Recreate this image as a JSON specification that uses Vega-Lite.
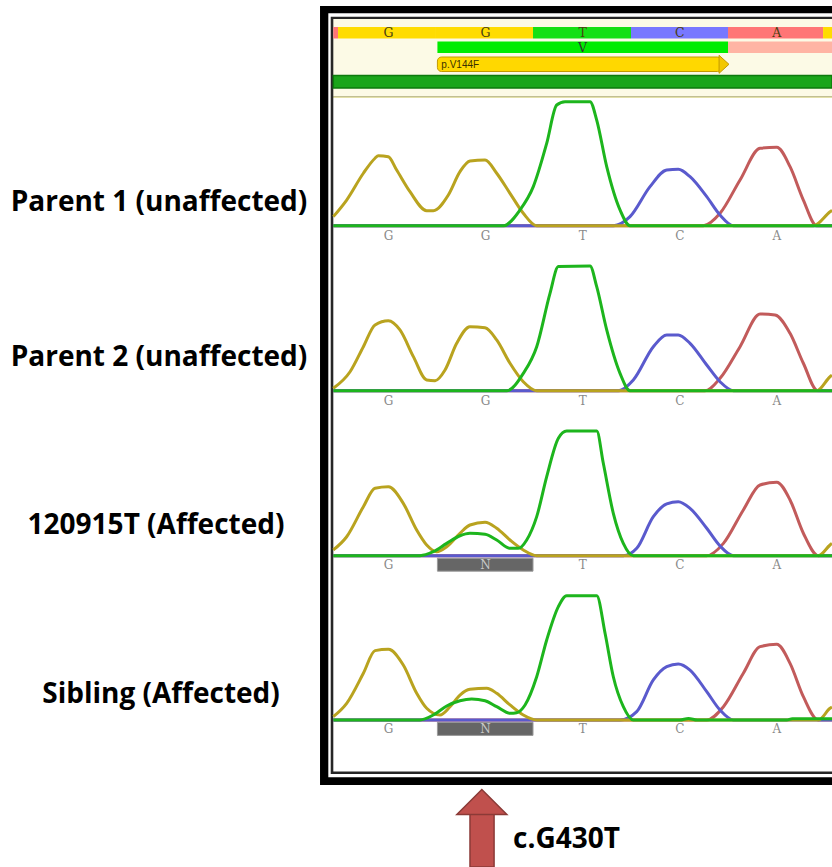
{
"$schema":"https://vega.github.io/schema/vega-lite/v6.json",
"padding":0,"autosize":{"type":"pad"},"spacing":0,"bounds":"flush",
"background":"#ffffff",
"config":{"view":{"stroke":null}},
"data":{"values":[{}]},
"datasets":{
"refseq":[
{"base":"A","start":0.4325,"end":0.481},
{"base":"G","start":0.481,"end":1.48,"pos":1},
{"base":"G","start":1.48,"end":2.489,"pos":2},
{"base":"T","start":2.489,"end":3.498,"pos":3},
{"base":"C","start":3.498,"end":4.497,"pos":4},
{"base":"A","start":4.497,"end":5.476,"pos":5},
{"base":"G","start":5.476,"end":5.568}
],
"labels":[
{"sample":"Parent 1","label":"Parent 1 (unaffected)"},
{"sample":"Parent 2","label":"Parent 2 (unaffected)"},
{"sample":"120915T","label":"120915T (Affected)"},
{"sample":"Sibling","label":"Sibling (Affected)"}
],
"calls":[
{"sample":"Parent 1","pos":1,"call":"G"},{"sample":"Parent 1","pos":2,"call":"G"},{"sample":"Parent 1","pos":3,"call":"T"},{"sample":"Parent 1","pos":4,"call":"C"},{"sample":"Parent 1","pos":5,"call":"A"},
{"sample":"Parent 2","pos":1,"call":"G"},{"sample":"Parent 2","pos":2,"call":"G"},{"sample":"Parent 2","pos":3,"call":"T"},{"sample":"Parent 2","pos":4,"call":"C"},{"sample":"Parent 2","pos":5,"call":"A"},
{"sample":"120915T","pos":1,"call":"G"},{"sample":"120915T","pos":2,"call":"N"},{"sample":"120915T","pos":3,"call":"T"},{"sample":"120915T","pos":4,"call":"C"},{"sample":"120915T","pos":5,"call":"A"},
{"sample":"Sibling","pos":1,"call":"G"},{"sample":"Sibling","pos":2,"call":"N"},{"sample":"Sibling","pos":3,"call":"T"},{"sample":"Sibling","pos":4,"call":"C"},{"sample":"Sibling","pos":5,"call":"A"}
],
"ambig":[
{"sample":"120915T","start":1.5046,"end":2.489},
{"sample":"Sibling","start":1.5046,"end":2.489}
],
"traces":[
{"sample":"Parent 1","base":"A","pos":0.4325,"signal":0},{"sample":"Parent 1","base":"A","pos":4.243,"signal":0},{"sample":"Parent 1","base":"A","pos":4.415,"signal":100},{"sample":"Parent 1","base":"A","pos":4.621,"signal":369},{"sample":"Parent 1","base":"A","pos":4.827,"signal":624},{"sample":"Parent 1","base":"A","pos":4.999,"signal":632},{"sample":"Parent 1","base":"A","pos":5.136,"signal":476},{"sample":"Parent 1","base":"A","pos":5.273,"signal":207},{"sample":"Parent 1","base":"A","pos":5.411,"signal":0},{"sample":"Parent 1","base":"A","pos":5.568,"signal":0},
{"sample":"Parent 1","base":"C","pos":0.4325,"signal":0},{"sample":"Parent 1","base":"C","pos":3.316,"signal":0},{"sample":"Parent 1","base":"C","pos":3.488,"signal":73},{"sample":"Parent 1","base":"C","pos":3.694,"signal":315},{"sample":"Parent 1","base":"C","pos":3.866,"signal":449},{"sample":"Parent 1","base":"C","pos":3.985,"signal":455},{"sample":"Parent 1","base":"C","pos":4.106,"signal":395},{"sample":"Parent 1","base":"C","pos":4.278,"signal":234},{"sample":"Parent 1","base":"C","pos":4.415,"signal":86},{"sample":"Parent 1","base":"C","pos":4.552,"signal":0},{"sample":"Parent 1","base":"C","pos":5.568,"signal":0},
{"sample":"Parent 1","base":"G","pos":0.4325,"signal":73},{"sample":"Parent 1","base":"G","pos":0.57,"signal":207},{"sample":"Parent 1","base":"G","pos":0.742,"signal":423},{"sample":"Parent 1","base":"G","pos":0.862,"signal":544},{"sample":"Parent 1","base":"G","pos":0.896,"signal":565},{"sample":"Parent 1","base":"G","pos":0.999,"signal":556},{"sample":"Parent 1","base":"G","pos":1.085,"signal":449},{"sample":"Parent 1","base":"G","pos":1.222,"signal":274},{"sample":"Parent 1","base":"G","pos":1.394,"signal":121},{"sample":"Parent 1","base":"G","pos":1.462,"signal":121},{"sample":"Parent 1","base":"G","pos":1.617,"signal":248},{"sample":"Parent 1","base":"G","pos":1.737,"signal":436},{"sample":"Parent 1","base":"G","pos":1.84,"signal":522},{"sample":"Parent 1","base":"G","pos":1.995,"signal":530},{"sample":"Parent 1","base":"G","pos":2.115,"signal":423},{"sample":"Parent 1","base":"G","pos":2.252,"signal":261},{"sample":"Parent 1","base":"G","pos":2.389,"signal":100},{"sample":"Parent 1","base":"G","pos":2.527,"signal":0},{"sample":"Parent 1","base":"G","pos":5.376,"signal":0},{"sample":"Parent 1","base":"G","pos":5.548,"signal":113},{"sample":"Parent 1","base":"G","pos":5.568,"signal":124},
{"sample":"Parent 1","base":"T","pos":0.4325,"signal":0},{"sample":"Parent 1","base":"T","pos":2.184,"signal":0},{"sample":"Parent 1","base":"T","pos":2.355,"signal":127},{"sample":"Parent 1","base":"T","pos":2.492,"signal":315},{"sample":"Parent 1","base":"T","pos":2.63,"signal":664},{"sample":"Parent 1","base":"T","pos":2.733,"signal":973},{"sample":"Parent 1","base":"T","pos":2.819,"signal":1000},{"sample":"Parent 1","base":"T","pos":3.076,"signal":1000},{"sample":"Parent 1","base":"T","pos":3.145,"signal":852},{"sample":"Parent 1","base":"T","pos":3.248,"signal":476},{"sample":"Parent 1","base":"T","pos":3.385,"signal":127},{"sample":"Parent 1","base":"T","pos":3.488,"signal":0},{"sample":"Parent 1","base":"T","pos":5.568,"signal":0},

{"sample":"Parent 2","base":"A","pos":0.4325,"signal":0},{"sample":"Parent 2","base":"A","pos":4.261,"signal":0},{"sample":"Parent 2","base":"A","pos":4.415,"signal":99},{"sample":"Parent 2","base":"A","pos":4.621,"signal":353},{"sample":"Parent 2","base":"A","pos":4.827,"signal":615},{"sample":"Parent 2","base":"A","pos":4.982,"signal":607},{"sample":"Parent 2","base":"A","pos":5.136,"signal":460},{"sample":"Parent 2","base":"A","pos":5.273,"signal":220},{"sample":"Parent 2","base":"A","pos":5.42,"signal":0},{"sample":"Parent 2","base":"A","pos":5.568,"signal":0},
{"sample":"Parent 2","base":"C","pos":0.4325,"signal":0},{"sample":"Parent 2","base":"C","pos":3.368,"signal":0},{"sample":"Parent 2","base":"C","pos":3.522,"signal":86},{"sample":"Parent 2","base":"C","pos":3.728,"signal":353},{"sample":"Parent 2","base":"C","pos":3.866,"signal":447},{"sample":"Parent 2","base":"C","pos":3.985,"signal":447},{"sample":"Parent 2","base":"C","pos":4.106,"signal":380},{"sample":"Parent 2","base":"C","pos":4.278,"signal":206},{"sample":"Parent 2","base":"C","pos":4.415,"signal":72},{"sample":"Parent 2","base":"C","pos":4.552,"signal":0},{"sample":"Parent 2","base":"C","pos":5.568,"signal":0},
{"sample":"Parent 2","base":"G","pos":0.4325,"signal":19},{"sample":"Parent 2","base":"G","pos":0.605,"signal":152},{"sample":"Parent 2","base":"G","pos":0.742,"signal":353},{"sample":"Parent 2","base":"G","pos":0.862,"signal":527},{"sample":"Parent 2","base":"G","pos":0.999,"signal":561},{"sample":"Parent 2","base":"G","pos":1.119,"signal":487},{"sample":"Parent 2","base":"G","pos":1.257,"signal":273},{"sample":"Parent 2","base":"G","pos":1.394,"signal":86},{"sample":"Parent 2","base":"G","pos":1.48,"signal":80},{"sample":"Parent 2","base":"G","pos":1.583,"signal":166},{"sample":"Parent 2","base":"G","pos":1.703,"signal":380},{"sample":"Parent 2","base":"G","pos":1.84,"signal":513},{"sample":"Parent 2","base":"G","pos":1.995,"signal":505},{"sample":"Parent 2","base":"G","pos":2.115,"signal":407},{"sample":"Parent 2","base":"G","pos":2.252,"signal":220},{"sample":"Parent 2","base":"G","pos":2.389,"signal":72},{"sample":"Parent 2","base":"G","pos":2.527,"signal":0},{"sample":"Parent 2","base":"G","pos":5.411,"signal":0},{"sample":"Parent 2","base":"G","pos":5.548,"signal":112},{"sample":"Parent 2","base":"G","pos":5.568,"signal":124},
{"sample":"Parent 2","base":"T","pos":0.4325,"signal":0},{"sample":"Parent 2","base":"T","pos":2.218,"signal":0},{"sample":"Parent 2","base":"T","pos":2.389,"signal":139},{"sample":"Parent 2","base":"T","pos":2.527,"signal":353},{"sample":"Parent 2","base":"T","pos":2.664,"signal":781},{"sample":"Parent 2","base":"T","pos":2.75,"signal":995},{"sample":"Parent 2","base":"T","pos":3.076,"signal":1000},{"sample":"Parent 2","base":"T","pos":3.145,"signal":834},{"sample":"Parent 2","base":"T","pos":3.248,"signal":487},{"sample":"Parent 2","base":"T","pos":3.385,"signal":139},{"sample":"Parent 2","base":"T","pos":3.488,"signal":0},{"sample":"Parent 2","base":"T","pos":5.568,"signal":0},

{"sample":"120915T","base":"A","pos":0.4325,"signal":0},{"sample":"120915T","base":"A","pos":4.278,"signal":0},{"sample":"120915T","base":"A","pos":4.45,"signal":99},{"sample":"120915T","base":"A","pos":4.655,"signal":367},{"sample":"120915T","base":"A","pos":4.827,"signal":567},{"sample":"120915T","base":"A","pos":4.999,"signal":589},{"sample":"120915T","base":"A","pos":5.136,"signal":447},{"sample":"120915T","base":"A","pos":5.273,"signal":180},{"sample":"120915T","base":"A","pos":5.427,"signal":0},{"sample":"120915T","base":"A","pos":5.568,"signal":0},
{"sample":"120915T","base":"C","pos":0.4325,"signal":0},{"sample":"120915T","base":"C","pos":3.419,"signal":0},{"sample":"120915T","base":"C","pos":3.557,"signal":59},{"sample":"120915T","base":"C","pos":3.728,"signal":313},{"sample":"120915T","base":"C","pos":3.866,"signal":415},{"sample":"120915T","base":"C","pos":3.985,"signal":433},{"sample":"120915T","base":"C","pos":4.106,"signal":380},{"sample":"120915T","base":"C","pos":4.278,"signal":220},{"sample":"120915T","base":"C","pos":4.415,"signal":78},{"sample":"120915T","base":"C","pos":4.552,"signal":0},{"sample":"120915T","base":"C","pos":5.568,"signal":0},
{"sample":"120915T","base":"G","pos":0.4325,"signal":46},{"sample":"120915T","base":"G","pos":0.57,"signal":152},{"sample":"120915T","base":"G","pos":0.742,"signal":393},{"sample":"120915T","base":"G","pos":0.862,"signal":541},{"sample":"120915T","base":"G","pos":0.999,"signal":553},{"sample":"120915T","base":"G","pos":1.153,"signal":420},{"sample":"120915T","base":"G","pos":1.291,"signal":206},{"sample":"120915T","base":"G","pos":1.394,"signal":86},{"sample":"120915T","base":"G","pos":1.497,"signal":32},{"sample":"120915T","base":"G","pos":1.6,"signal":72},{"sample":"120915T","base":"G","pos":1.737,"signal":180},{"sample":"120915T","base":"G","pos":1.84,"signal":246},{"sample":"120915T","base":"G","pos":1.995,"signal":268},{"sample":"120915T","base":"G","pos":2.115,"signal":220},{"sample":"120915T","base":"G","pos":2.252,"signal":126},{"sample":"120915T","base":"G","pos":2.389,"signal":46},{"sample":"120915T","base":"G","pos":2.527,"signal":0},{"sample":"120915T","base":"G","pos":5.427,"signal":0},{"sample":"120915T","base":"G","pos":5.548,"signal":86},{"sample":"120915T","base":"G","pos":5.568,"signal":98},
{"sample":"120915T","base":"T","pos":0.4325,"signal":0},{"sample":"120915T","base":"T","pos":1.325,"signal":0},{"sample":"120915T","base":"T","pos":1.462,"signal":32},{"sample":"120915T","base":"T","pos":1.6,"signal":99},{"sample":"120915T","base":"T","pos":1.737,"signal":160},{"sample":"120915T","base":"T","pos":1.84,"signal":180},{"sample":"120915T","base":"T","pos":1.995,"signal":172},{"sample":"120915T","base":"T","pos":2.115,"signal":126},{"sample":"120915T","base":"T","pos":2.252,"signal":59},{"sample":"120915T","base":"T","pos":2.338,"signal":59},{"sample":"120915T","base":"T","pos":2.424,"signal":126},{"sample":"120915T","base":"T","pos":2.527,"signal":313},{"sample":"120915T","base":"T","pos":2.63,"signal":634},{"sample":"120915T","base":"T","pos":2.75,"signal":942},{"sample":"120915T","base":"T","pos":2.836,"signal":1000},{"sample":"120915T","base":"T","pos":3.145,"signal":1000},{"sample":"120915T","base":"T","pos":3.213,"signal":741},{"sample":"120915T","base":"T","pos":3.316,"signal":340},{"sample":"120915T","base":"T","pos":3.419,"signal":99},{"sample":"120915T","base":"T","pos":3.522,"signal":0},{"sample":"120915T","base":"T","pos":5.568,"signal":0},

{"sample":"Sibling","base":"A","pos":0.4325,"signal":0},{"sample":"Sibling","base":"A","pos":4.278,"signal":0},{"sample":"Sibling","base":"A","pos":4.45,"signal":107},{"sample":"Sibling","base":"A","pos":4.655,"signal":376},{"sample":"Sibling","base":"A","pos":4.827,"signal":590},{"sample":"Sibling","base":"A","pos":4.999,"signal":609},{"sample":"Sibling","base":"A","pos":5.136,"signal":456},{"sample":"Sibling","base":"A","pos":5.273,"signal":188},{"sample":"Sibling","base":"A","pos":5.427,"signal":0},{"sample":"Sibling","base":"A","pos":5.568,"signal":0},
{"sample":"Sibling","base":"C","pos":0.4325,"signal":0},{"sample":"Sibling","base":"C","pos":3.385,"signal":0},{"sample":"Sibling","base":"C","pos":3.557,"signal":67},{"sample":"Sibling","base":"C","pos":3.728,"signal":322},{"sample":"Sibling","base":"C","pos":3.866,"signal":429},{"sample":"Sibling","base":"C","pos":3.985,"signal":451},{"sample":"Sibling","base":"C","pos":4.106,"signal":402},{"sample":"Sibling","base":"C","pos":4.278,"signal":228},{"sample":"Sibling","base":"C","pos":4.415,"signal":80},{"sample":"Sibling","base":"C","pos":4.552,"signal":0},{"sample":"Sibling","base":"C","pos":5.568,"signal":0},
{"sample":"Sibling","base":"G","pos":0.4325,"signal":27},{"sample":"Sibling","base":"G","pos":0.57,"signal":134},{"sample":"Sibling","base":"G","pos":0.742,"signal":376},{"sample":"Sibling","base":"G","pos":0.862,"signal":558},{"sample":"Sibling","base":"G","pos":0.999,"signal":569},{"sample":"Sibling","base":"G","pos":1.153,"signal":442},{"sample":"Sibling","base":"G","pos":1.291,"signal":215},{"sample":"Sibling","base":"G","pos":1.394,"signal":94},{"sample":"Sibling","base":"G","pos":1.531,"signal":40},{"sample":"Sibling","base":"G","pos":1.634,"signal":107},{"sample":"Sibling","base":"G","pos":1.737,"signal":201},{"sample":"Sibling","base":"G","pos":1.84,"signal":247},{"sample":"Sibling","base":"G","pos":2.012,"signal":255},{"sample":"Sibling","base":"G","pos":2.115,"signal":215},{"sample":"Sibling","base":"G","pos":2.252,"signal":121},{"sample":"Sibling","base":"G","pos":2.389,"signal":40},{"sample":"Sibling","base":"G","pos":2.527,"signal":0},{"sample":"Sibling","base":"G","pos":5.427,"signal":0},{"sample":"Sibling","base":"G","pos":5.548,"signal":94},{"sample":"Sibling","base":"G","pos":5.568,"signal":104},
{"sample":"Sibling","base":"T","pos":0.4325,"signal":0},{"sample":"Sibling","base":"T","pos":1.325,"signal":0},{"sample":"Sibling","base":"T","pos":1.462,"signal":40},{"sample":"Sibling","base":"T","pos":1.6,"signal":113},{"sample":"Sibling","base":"T","pos":1.737,"signal":155},{"sample":"Sibling","base":"T","pos":1.857,"signal":169},{"sample":"Sibling","base":"T","pos":1.995,"signal":155},{"sample":"Sibling","base":"T","pos":2.115,"signal":107},{"sample":"Sibling","base":"T","pos":2.252,"signal":54},{"sample":"Sibling","base":"T","pos":2.321,"signal":59},{"sample":"Sibling","base":"T","pos":2.407,"signal":121},{"sample":"Sibling","base":"T","pos":2.527,"signal":348},{"sample":"Sibling","base":"T","pos":2.63,"signal":644},{"sample":"Sibling","base":"T","pos":2.75,"signal":912},{"sample":"Sibling","base":"T","pos":2.836,"signal":1000},{"sample":"Sibling","base":"T","pos":3.145,"signal":1000},{"sample":"Sibling","base":"T","pos":3.231,"signal":698},{"sample":"Sibling","base":"T","pos":3.316,"signal":348},{"sample":"Sibling","base":"T","pos":3.419,"signal":107},{"sample":"Sibling","base":"T","pos":3.522,"signal":0},{"sample":"Sibling","base":"T","pos":4.0,"signal":0},{"sample":"Sibling","base":"T","pos":4.09,"signal":13},{"sample":"Sibling","base":"T","pos":4.18,"signal":0},{"sample":"Sibling","base":"T","pos":5.1,"signal":0},{"sample":"Sibling","base":"T","pos":5.16,"signal":11},{"sample":"Sibling","base":"T","pos":5.568,"signal":11}
]
},
"vconcat":[
{"width":832,"height":98,"layer":[
 {"mark":{"type":"rect","color":"#000000"},"encoding":{"x":{"datum":0.2956,"type":"quantitative","scale":{"domain":[-3,5.568],"nice":false,"zero":false},"axis":null},"x2":{"datum":5.568},"y":{"datum":6,"type":"quantitative","scale":{"domain":[0,98],"reverse":true,"nice":false,"zero":false},"axis":null},"y2":{"datum":98}}},
 {"mark":{"type":"rect","color":"#ffffff"},"encoding":{"x":{"datum":0.381,"type":"quantitative"},"x2":{"datum":5.568},"y":{"datum":13.3,"type":"quantitative"},"y2":{"datum":98}}},
 {"mark":{"type":"rect","color":"#262626"},"encoding":{"x":{"datum":0.4058,"type":"quantitative"},"x2":{"datum":5.568},"y":{"datum":16.7,"type":"quantitative"},"y2":{"datum":98}}},
 {"mark":{"type":"rect","color":"#fcfae6"},"encoding":{"x":{"datum":0.4325,"type":"quantitative"},"x2":{"datum":5.568},"y":{"datum":19,"type":"quantitative"},"y2":{"datum":96.2}}},
 {"mark":{"type":"rect","color":"#e3e0a8"},"encoding":{"x":{"datum":0.4325,"type":"quantitative"},"x2":{"datum":5.568},"y":{"datum":96.2,"type":"quantitative"},"y2":{"datum":98}}},
 {"data":{"name":"refseq"},"mark":{"type":"rect"},"encoding":{"x":{"field":"start","type":"quantitative"},"x2":{"field":"end"},"y":{"datum":27,"type":"quantitative"},"y2":{"datum":38.5},"color":{"field":"base","type":"nominal","scale":{"domain":["A","C","G","T"],"range":["#ff7676","#7878ff","#ffdc00","#14e014"]},"legend":null}}},
 {"data":{"name":"refseq"},"transform":[{"filter":"isValid(datum.pos)"}],"mark":{"type":"text","font":"DejaVu Serif","fontSize":12.5,"color":"#4a3f10","baseline":"middle"},"encoding":{"x":{"field":"pos","type":"quantitative"},"y":{"datum":33,"type":"quantitative"},"text":{"field":"base"}}},
 {"mark":{"type":"rect","color":"#00ec00"},"encoding":{"x":{"datum":1.5046,"type":"quantitative"},"x2":{"datum":4.497},"y":{"datum":41.5,"type":"quantitative"},"y2":{"datum":53}}},
 {"mark":{"type":"rect","color":"#ffb4a4"},"encoding":{"x":{"datum":4.497,"type":"quantitative"},"x2":{"datum":5.568},"y":{"datum":41.5,"type":"quantitative"},"y2":{"datum":53}}},
 {"data":{"values":[{"aa":"V","pos":3}]},"mark":{"type":"text","font":"DejaVu Serif","fontSize":12.5,"color":"#333333","baseline":"middle"},"encoding":{"x":{"field":"pos","type":"quantitative"},"y":{"datum":47.5,"type":"quantitative"},"text":{"field":"aa"}}},
 {"mark":{"type":"rect","cornerRadius":4,"stroke":"#c49a00","strokeWidth":1,"color":"#ffd800"},"encoding":{"x":{"datum":1.5046,"type":"quantitative"},"x2":{"datum":4.43},"y":{"datum":57,"type":"quantitative"},"y2":{"datum":71.5}}},
 {"mark":{"type":"point","shape":"M -0.55 -1 L 0.55 0 L -0.55 1 Z","size":324,"filled":true,"opacity":1,"color":"#f2c800","stroke":"#c49a00","strokeWidth":1},"encoding":{"x":{"datum":4.456,"type":"quantitative"},"y":{"datum":64.3,"type":"quantitative"}}},
 {"data":{"values":[{"label":"p.V144F"}]},"mark":{"type":"text","font":"Liberation Sans","fontSize":10,"color":"#3a3000","align":"left","baseline":"middle"},"encoding":{"x":{"datum":1.545,"type":"quantitative"},"y":{"datum":64.5,"type":"quantitative"},"text":{"field":"label"}}},
 {"mark":{"type":"rect","color":"#1aa51a","stroke":"#0d7a0d","strokeWidth":1.5},"encoding":{"x":{"datum":0.4325,"type":"quantitative"},"x2":{"datum":5.568},"y":{"datum":75.5,"type":"quantitative"},"y2":{"datum":88}}}
]},
{"width":832,"height":165,"layer":[
 {"mark":{"type":"rect","color":"#000000"},"encoding":{"x":{"datum":0.2956,"type":"quantitative","scale":{"domain":[-3,5.568],"nice":false,"zero":false},"axis":null},"x2":{"datum":5.568},"y":{"datum":-300.8,"type":"quantitative","scale":{"domain":[-300.8,1029.8],"nice":false,"zero":false},"axis":null},"y2":{"datum":1029.8}}},
 {"mark":{"type":"rect","color":"#ffffff"},"encoding":{"x":{"datum":0.381,"type":"quantitative"},"x2":{"datum":5.568},"y":{"datum":-300.8,"type":"quantitative"},"y2":{"datum":1029.8}}},
 {"mark":{"type":"rect","color":"#262626"},"encoding":{"x":{"datum":0.4058,"type":"quantitative"},"x2":{"datum":5.568},"y":{"datum":-300.8,"type":"quantitative"},"y2":{"datum":1029.8}}},
 {"mark":{"type":"rect","color":"#ffffff"},"encoding":{"x":{"datum":0.4325,"type":"quantitative"},"x2":{"datum":5.568},"y":{"datum":-300.8,"type":"quantitative"},"y2":{"datum":1029.8}}},
 {"data":{"name":"traces"},"transform":[{"filter":"datum.sample==='Parent 1'"}],"mark":{"type":"line","strokeWidth":3,"interpolate":"monotone","strokeJoin":"round"},"encoding":{"x":{"field":"pos","type":"quantitative"},"y":{"field":"signal","type":"quantitative"},"stroke":{"field":"base","type":"nominal","scale":{"domain":["A","C","G","T"],"range":["#c25b5b","#5a5acd","#b9a31f","#1db51d"]},"legend":null}}},
 {"data":{"name":"calls"},"transform":[{"filter":"datum.sample==='Parent 1'"}],"mark":{"type":"text","font":"DejaVu Serif","fontSize":12,"baseline":"middle","color":"#8a8a8a"},"encoding":{"x":{"field":"pos","type":"quantitative"},"y":{"datum":-80,"type":"quantitative"},"text":{"field":"call"}}},
 {"data":{"name":"labels"},"transform":[{"filter":"datum.sample==='Parent 1'"}],"mark":{"type":"text","font":"Open Sans","fontWeight":"bold","fontSize":28,"color":"#000000"},"encoding":{"x":{"datum":-1.3625,"type":"quantitative"},"y":{"datum":186,"type":"quantitative"},"text":{"field":"label"}}}
]},
{"width":832,"height":165,"layer":[
 {"mark":{"type":"rect","color":"#000000"},"encoding":{"x":{"datum":0.2956,"type":"quantitative","scale":{"domain":[-3,5.568],"nice":false,"zero":false},"axis":null},"x2":{"datum":5.568},"y":{"datum":-299.1,"type":"quantitative","scale":{"domain":[-299.1,1024],"nice":false,"zero":false},"axis":null},"y2":{"datum":1024}}},
 {"mark":{"type":"rect","color":"#ffffff"},"encoding":{"x":{"datum":0.381,"type":"quantitative"},"x2":{"datum":5.568},"y":{"datum":-299.1,"type":"quantitative"},"y2":{"datum":1024}}},
 {"mark":{"type":"rect","color":"#262626"},"encoding":{"x":{"datum":0.4058,"type":"quantitative"},"x2":{"datum":5.568},"y":{"datum":-299.1,"type":"quantitative"},"y2":{"datum":1024}}},
 {"mark":{"type":"rect","color":"#ffffff"},"encoding":{"x":{"datum":0.4325,"type":"quantitative"},"x2":{"datum":5.568},"y":{"datum":-299.1,"type":"quantitative"},"y2":{"datum":1024}}},
 {"data":{"name":"traces"},"transform":[{"filter":"datum.sample==='Parent 2'"}],"mark":{"type":"line","strokeWidth":3,"interpolate":"monotone","strokeJoin":"round"},"encoding":{"x":{"field":"pos","type":"quantitative"},"y":{"field":"signal","type":"quantitative"},"stroke":{"field":"base","type":"nominal","scale":{"domain":["A","C","G","T"],"range":["#c25b5b","#5a5acd","#b9a31f","#1db51d"]},"legend":null}}},
 {"data":{"name":"calls"},"transform":[{"filter":"datum.sample==='Parent 2'"}],"mark":{"type":"text","font":"DejaVu Serif","fontSize":12,"baseline":"middle","color":"#8a8a8a"},"encoding":{"x":{"field":"pos","type":"quantitative"},"y":{"datum":-80,"type":"quantitative"},"text":{"field":"call"}}},
 {"data":{"name":"labels"},"transform":[{"filter":"datum.sample==='Parent 2'"}],"mark":{"type":"text","font":"Open Sans","fontWeight":"bold","fontSize":28,"color":"#000000"},"encoding":{"x":{"datum":-1.3625,"type":"quantitative"},"y":{"datum":264,"type":"quantitative"},"text":{"field":"label"}}}
]},
{"width":832,"height":165,"layer":[
 {"mark":{"type":"rect","color":"#000000"},"encoding":{"x":{"datum":0.2956,"type":"quantitative","scale":{"domain":[-3,5.568],"nice":false,"zero":false},"axis":null},"x2":{"datum":5.568},"y":{"datum":-299.1,"type":"quantitative","scale":{"domain":[-299.1,1024],"nice":false,"zero":false},"axis":null},"y2":{"datum":1024}}},
 {"mark":{"type":"rect","color":"#ffffff"},"encoding":{"x":{"datum":0.381,"type":"quantitative"},"x2":{"datum":5.568},"y":{"datum":-299.1,"type":"quantitative"},"y2":{"datum":1024}}},
 {"mark":{"type":"rect","color":"#262626"},"encoding":{"x":{"datum":0.4058,"type":"quantitative"},"x2":{"datum":5.568},"y":{"datum":-299.1,"type":"quantitative"},"y2":{"datum":1024}}},
 {"mark":{"type":"rect","color":"#ffffff"},"encoding":{"x":{"datum":0.4325,"type":"quantitative"},"x2":{"datum":5.568},"y":{"datum":-299.1,"type":"quantitative"},"y2":{"datum":1024}}},
 {"data":{"name":"ambig"},"transform":[{"filter":"datum.sample==='120915T'"}],"mark":{"type":"rect","color":"#666666","stroke":"#9a9a9a","strokeWidth":1},"encoding":{"x":{"field":"start","type":"quantitative"},"x2":{"field":"end"},"y":{"datum":-20,"type":"quantitative"},"y2":{"datum":-124}}},
 {"data":{"name":"traces"},"transform":[{"filter":"datum.sample==='120915T'"}],"mark":{"type":"line","strokeWidth":3,"interpolate":"monotone","strokeJoin":"round"},"encoding":{"x":{"field":"pos","type":"quantitative"},"y":{"field":"signal","type":"quantitative"},"stroke":{"field":"base","type":"nominal","scale":{"domain":["A","C","G","T"],"range":["#c25b5b","#5a5acd","#b9a31f","#1db51d"]},"legend":null}}},
 {"data":{"name":"calls"},"transform":[{"filter":"datum.sample==='120915T' && datum.call!=='N'"}],"mark":{"type":"text","font":"DejaVu Serif","fontSize":12,"baseline":"middle","color":"#8a8a8a"},"encoding":{"x":{"field":"pos","type":"quantitative"},"y":{"datum":-76,"type":"quantitative"},"text":{"field":"call"}}},
 {"data":{"name":"calls"},"transform":[{"filter":"datum.sample==='120915T' && datum.call==='N'"}],"mark":{"type":"text","font":"DejaVu Serif","fontSize":12,"baseline":"middle","color":"#c8c8c8"},"encoding":{"x":{"field":"pos","type":"quantitative"},"y":{"datum":-76,"type":"quantitative"},"text":{"field":"call"}}},
 {"data":{"name":"labels"},"transform":[{"filter":"datum.sample==='120915T'"}],"mark":{"type":"text","font":"Open Sans","fontWeight":"bold","fontSize":28,"color":"#000000"},"encoding":{"x":{"datum":-1.3934,"type":"quantitative"},"y":{"datum":236,"type":"quantitative"},"text":{"field":"label"}}}
]},
{"width":832,"height":165,"layer":[
 {"mark":{"type":"rect","color":"#000000"},"encoding":{"x":{"datum":0.2956,"type":"quantitative","scale":{"domain":[-3,5.568],"nice":false,"zero":false},"axis":null},"x2":{"datum":5.568},"y":{"datum":-305.7,"type":"quantitative","scale":{"domain":[-305.7,1021.7],"nice":false,"zero":false},"axis":null},"y2":{"datum":1021.7}}},
 {"mark":{"type":"rect","color":"#ffffff"},"encoding":{"x":{"datum":0.381,"type":"quantitative"},"x2":{"datum":5.568},"y":{"datum":-305.7,"type":"quantitative"},"y2":{"datum":1021.7}}},
 {"mark":{"type":"rect","color":"#262626"},"encoding":{"x":{"datum":0.4058,"type":"quantitative"},"x2":{"datum":5.568},"y":{"datum":-305.7,"type":"quantitative"},"y2":{"datum":1021.7}}},
 {"mark":{"type":"rect","color":"#ffffff"},"encoding":{"x":{"datum":0.4325,"type":"quantitative"},"x2":{"datum":5.568},"y":{"datum":-305.7,"type":"quantitative"},"y2":{"datum":1021.7}}},
 {"data":{"name":"ambig"},"transform":[{"filter":"datum.sample==='Sibling'"}],"mark":{"type":"rect","color":"#666666","stroke":"#9a9a9a","strokeWidth":1},"encoding":{"x":{"field":"start","type":"quantitative"},"x2":{"field":"end"},"y":{"datum":-18,"type":"quantitative"},"y2":{"datum":-124}}},
 {"data":{"name":"traces"},"transform":[{"filter":"datum.sample==='Sibling'"}],"mark":{"type":"line","strokeWidth":3,"interpolate":"monotone","strokeJoin":"round"},"encoding":{"x":{"field":"pos","type":"quantitative"},"y":{"field":"signal","type":"quantitative"},"stroke":{"field":"base","type":"nominal","scale":{"domain":["A","C","G","T"],"range":["#c25b5b","#5a5acd","#b9a31f","#1db51d"]},"legend":null}}},
 {"data":{"name":"calls"},"transform":[{"filter":"datum.sample==='Sibling' && datum.call!=='N'"}],"mark":{"type":"text","font":"DejaVu Serif","fontSize":12,"baseline":"middle","color":"#8a8a8a"},"encoding":{"x":{"field":"pos","type":"quantitative"},"y":{"datum":-74,"type":"quantitative"},"text":{"field":"call"}}},
 {"data":{"name":"calls"},"transform":[{"filter":"datum.sample==='Sibling' && datum.call==='N'"}],"mark":{"type":"text","font":"DejaVu Serif","fontSize":12,"baseline":"middle","color":"#c8c8c8"},"encoding":{"x":{"field":"pos","type":"quantitative"},"y":{"datum":-74,"type":"quantitative"},"text":{"field":"call"}}},
 {"data":{"name":"labels"},"transform":[{"filter":"datum.sample==='Sibling'"}],"mark":{"type":"text","font":"Open Sans","fontWeight":"bold","fontSize":28,"color":"#000000"},"encoding":{"x":{"datum":-1.342,"type":"quantitative"},"y":{"datum":199,"type":"quantitative"},"text":{"field":"label"}}}
]},
{"width":832,"height":109,"layer":[
 {"mark":{"type":"rect","color":"#000000"},"encoding":{"x":{"datum":0.2956,"type":"quantitative","scale":{"domain":[-3,5.568],"nice":false,"zero":false},"axis":null},"x2":{"datum":5.568},"y":{"datum":0,"type":"quantitative","scale":{"domain":[0,109],"reverse":true,"nice":false,"zero":false},"axis":null},"y2":{"datum":27}}},
 {"mark":{"type":"rect","color":"#ffffff"},"encoding":{"x":{"datum":0.381,"type":"quantitative"},"x2":{"datum":5.568},"y":{"datum":0,"type":"quantitative"},"y2":{"datum":19.3}}},
 {"mark":{"type":"rect","color":"#262626"},"encoding":{"x":{"datum":0.4058,"type":"quantitative"},"x2":{"datum":5.568},"y":{"datum":0,"type":"quantitative"},"y2":{"datum":16}}},
 {"mark":{"type":"rect","color":"#ffffff"},"encoding":{"x":{"datum":0.4325,"type":"quantitative"},"x2":{"datum":5.568},"y":{"datum":0,"type":"quantitative"},"y2":{"datum":13.5}}},
 {"mark":{"type":"rect","color":"#c0504d","stroke":"#8b3a37","strokeWidth":1.5},"encoding":{"x":{"datum":1.84,"type":"quantitative"},"x2":{"datum":2.088},"y":{"datum":55,"type":"quantitative"},"y2":{"datum":109}}},
 {"mark":{"type":"point","shape":"M -1 0.5 L 0 -0.5 L 1 0.5 Z","size":2500,"filled":true,"opacity":1,"color":"#c0504d","stroke":"#8b3a37","strokeWidth":1.5},"encoding":{"x":{"datum":1.962,"type":"quantitative"},"y":{"datum":44,"type":"quantitative"}}},
 {"data":{"values":[{"label":"c.G430T"}]},"mark":{"type":"text","font":"Open Sans","fontWeight":"bold","fontSize":28,"color":"#000000","align":"left"},"encoding":{"x":{"datum":2.283,"type":"quantitative"},"y":{"datum":81.5,"type":"quantitative"},"text":{"field":"label"}}}
]}
]
}
